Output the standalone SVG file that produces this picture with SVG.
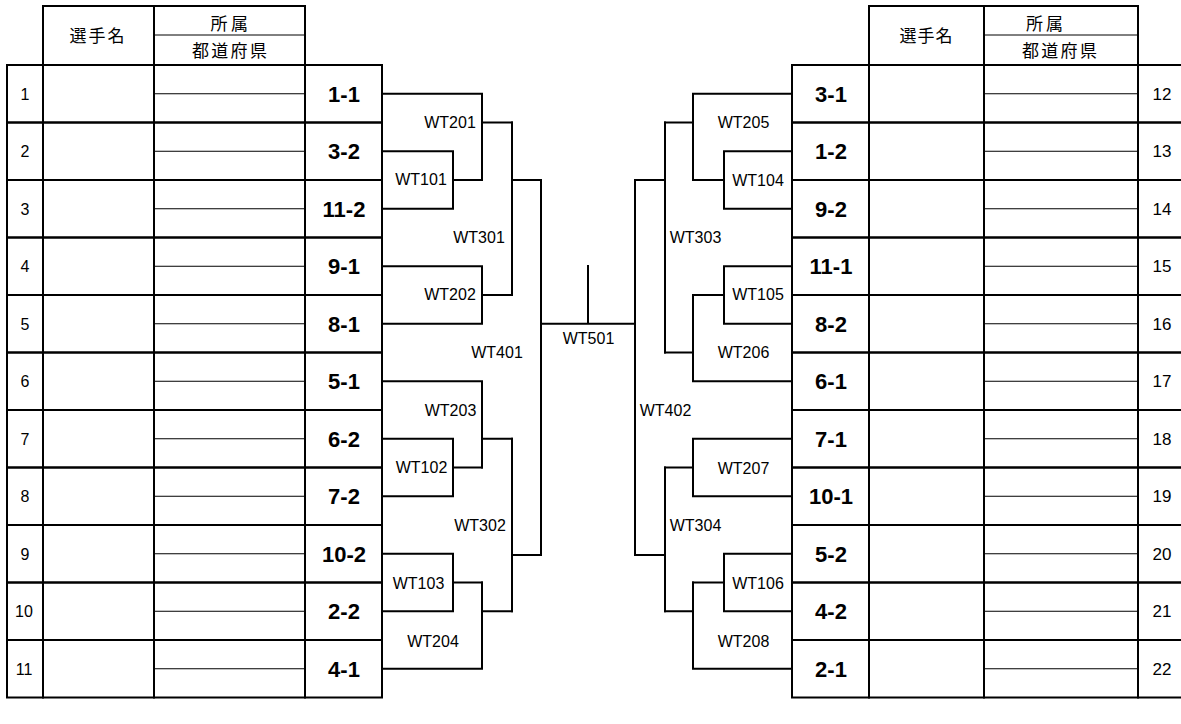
<svg xmlns="http://www.w3.org/2000/svg" width="1181" height="724" viewBox="0 0 1181 724">
<style>
.cell{fill:none;stroke:#000;stroke-width:2}
.thin{fill:none;stroke:#000;stroke-width:1}
.con{fill:none;stroke:#000;stroke-width:2;stroke-linecap:square}
.lbl{font-family:"Liberation Sans",Arial,sans-serif;font-size:16px;text-anchor:middle;fill:#000}
.num{font-family:"Liberation Sans",Arial,sans-serif;font-size:16px;text-anchor:middle;fill:#000}
.numr{font-family:"Liberation Sans",Arial,sans-serif;font-size:17px;text-anchor:middle;fill:#000}
.code{font-family:"Liberation Sans",Arial,sans-serif;font-size:22px;font-weight:bold;text-anchor:middle;fill:#000}
.hdr{font-family:"Noto Sans CJK JP","Noto Sans CJK SC",sans-serif;font-size:17px;fill:#000}
</style>
<rect x="0" y="0" width="1181" height="724" fill="#fff"/>

<g id="header-left">
<rect class="cell" x="43" y="6" width="111" height="59"/>
<rect class="cell" x="154" y="6" width="151" height="59"/>
<line class="thin" x1="154" y1="35" x2="305" y2="35"/>
<text class="hdr" x="69.5" y="41.8" letter-spacing="2">選手名</text>
<text class="hdr" x="210.5" y="29.5" letter-spacing="3.5">所属</text>
<text class="hdr" x="192" y="56.5" letter-spacing="2.3">都道府県</text>
</g>
<g id="header-right">
<rect class="cell" x="869" y="6" width="115" height="59"/>
<rect class="cell" x="984" y="6" width="154" height="59"/>
<line class="thin" x1="984" y1="35" x2="1138" y2="35"/>
<text class="hdr" x="899.5" y="41.8" letter-spacing="1">選手名</text>
<text class="hdr" x="1026" y="29.5" letter-spacing="3">所属</text>
<text class="hdr" x="1022" y="56.5" letter-spacing="2.3">都道府県</text>
</g>

<g id="entry-1"><rect class="cell" x="7" y="65" width="36" height="57.5"/><rect class="cell" x="43" y="65" width="111" height="57.5"/><rect class="cell" x="154" y="65" width="151" height="57.5"/><rect class="cell" x="305" y="65" width="77" height="57.5"/><line class="thin" x1="154" y1="93.75" x2="305" y2="93.75"/><text class="num" x="25" y="99.5">1</text><text class="code" x="344" y="101.5">1-1</text></g>
<g id="entry-2"><rect class="cell" x="7" y="122.5" width="36" height="57.5"/><rect class="cell" x="43" y="122.5" width="111" height="57.5"/><rect class="cell" x="154" y="122.5" width="151" height="57.5"/><rect class="cell" x="305" y="122.5" width="77" height="57.5"/><line class="thin" x1="154" y1="151.25" x2="305" y2="151.25"/><text class="num" x="25" y="157">2</text><text class="code" x="344" y="159">3-2</text></g>
<g id="entry-3"><rect class="cell" x="7" y="180" width="36" height="57.5"/><rect class="cell" x="43" y="180" width="111" height="57.5"/><rect class="cell" x="154" y="180" width="151" height="57.5"/><rect class="cell" x="305" y="180" width="77" height="57.5"/><line class="thin" x1="154" y1="208.75" x2="305" y2="208.75"/><text class="num" x="25" y="214.5">3</text><text class="code" x="344" y="216.5">11-2</text></g>
<g id="entry-4"><rect class="cell" x="7" y="237.5" width="36" height="57.5"/><rect class="cell" x="43" y="237.5" width="111" height="57.5"/><rect class="cell" x="154" y="237.5" width="151" height="57.5"/><rect class="cell" x="305" y="237.5" width="77" height="57.5"/><line class="thin" x1="154" y1="266.25" x2="305" y2="266.25"/><text class="num" x="25" y="272">4</text><text class="code" x="344" y="274">9-1</text></g>
<g id="entry-5"><rect class="cell" x="7" y="295" width="36" height="57.5"/><rect class="cell" x="43" y="295" width="111" height="57.5"/><rect class="cell" x="154" y="295" width="151" height="57.5"/><rect class="cell" x="305" y="295" width="77" height="57.5"/><line class="thin" x1="154" y1="323.75" x2="305" y2="323.75"/><text class="num" x="25" y="329.5">5</text><text class="code" x="344" y="331.5">8-1</text></g>
<g id="entry-6"><rect class="cell" x="7" y="352.5" width="36" height="57.5"/><rect class="cell" x="43" y="352.5" width="111" height="57.5"/><rect class="cell" x="154" y="352.5" width="151" height="57.5"/><rect class="cell" x="305" y="352.5" width="77" height="57.5"/><line class="thin" x1="154" y1="381.25" x2="305" y2="381.25"/><text class="num" x="25" y="387">6</text><text class="code" x="344" y="389">5-1</text></g>
<g id="entry-7"><rect class="cell" x="7" y="410" width="36" height="57.5"/><rect class="cell" x="43" y="410" width="111" height="57.5"/><rect class="cell" x="154" y="410" width="151" height="57.5"/><rect class="cell" x="305" y="410" width="77" height="57.5"/><line class="thin" x1="154" y1="438.75" x2="305" y2="438.75"/><text class="num" x="25" y="444.5">7</text><text class="code" x="344" y="446.5">6-2</text></g>
<g id="entry-8"><rect class="cell" x="7" y="467.5" width="36" height="57.5"/><rect class="cell" x="43" y="467.5" width="111" height="57.5"/><rect class="cell" x="154" y="467.5" width="151" height="57.5"/><rect class="cell" x="305" y="467.5" width="77" height="57.5"/><line class="thin" x1="154" y1="496.25" x2="305" y2="496.25"/><text class="num" x="25" y="502">8</text><text class="code" x="344" y="504">7-2</text></g>
<g id="entry-9"><rect class="cell" x="7" y="525" width="36" height="57.5"/><rect class="cell" x="43" y="525" width="111" height="57.5"/><rect class="cell" x="154" y="525" width="151" height="57.5"/><rect class="cell" x="305" y="525" width="77" height="57.5"/><line class="thin" x1="154" y1="553.75" x2="305" y2="553.75"/><text class="num" x="25" y="559.5">9</text><text class="code" x="344" y="561.5">10-2</text></g>
<g id="entry-10"><rect class="cell" x="7" y="582.5" width="36" height="57.5"/><rect class="cell" x="43" y="582.5" width="111" height="57.5"/><rect class="cell" x="154" y="582.5" width="151" height="57.5"/><rect class="cell" x="305" y="582.5" width="77" height="57.5"/><line class="thin" x1="154" y1="611.25" x2="305" y2="611.25"/><text class="num" x="24" y="617">10</text><text class="code" x="344" y="619">2-2</text></g>
<g id="entry-11"><rect class="cell" x="7" y="640" width="36" height="57.5"/><rect class="cell" x="43" y="640" width="111" height="57.5"/><rect class="cell" x="154" y="640" width="151" height="57.5"/><rect class="cell" x="305" y="640" width="77" height="57.5"/><line class="thin" x1="154" y1="668.75" x2="305" y2="668.75"/><text class="num" x="24" y="674.5">11</text><text class="code" x="344" y="676.5">4-1</text></g>

<g id="entry-12"><rect class="cell" x="792" y="65" width="77" height="57.5"/><rect class="cell" x="869" y="65" width="115" height="57.5"/><rect class="cell" x="984" y="65" width="154" height="57.5"/><rect class="cell" x="1138" y="65" width="60" height="57.5"/><line class="thin" x1="984" y1="93.75" x2="1138" y2="93.75"/><text class="numr" x="1162" y="99.8">12</text><text class="code" x="831" y="101.5">3-1</text></g>
<g id="entry-13"><rect class="cell" x="792" y="122.5" width="77" height="57.5"/><rect class="cell" x="869" y="122.5" width="115" height="57.5"/><rect class="cell" x="984" y="122.5" width="154" height="57.5"/><rect class="cell" x="1138" y="122.5" width="60" height="57.5"/><line class="thin" x1="984" y1="151.25" x2="1138" y2="151.25"/><text class="numr" x="1162" y="157.3">13</text><text class="code" x="831" y="159">1-2</text></g>
<g id="entry-14"><rect class="cell" x="792" y="180" width="77" height="57.5"/><rect class="cell" x="869" y="180" width="115" height="57.5"/><rect class="cell" x="984" y="180" width="154" height="57.5"/><rect class="cell" x="1138" y="180" width="60" height="57.5"/><line class="thin" x1="984" y1="208.75" x2="1138" y2="208.75"/><text class="numr" x="1162" y="214.8">14</text><text class="code" x="831" y="216.5">9-2</text></g>
<g id="entry-15"><rect class="cell" x="792" y="237.5" width="77" height="57.5"/><rect class="cell" x="869" y="237.5" width="115" height="57.5"/><rect class="cell" x="984" y="237.5" width="154" height="57.5"/><rect class="cell" x="1138" y="237.5" width="60" height="57.5"/><line class="thin" x1="984" y1="266.25" x2="1138" y2="266.25"/><text class="numr" x="1162" y="272.3">15</text><text class="code" x="831" y="274">11-1</text></g>
<g id="entry-16"><rect class="cell" x="792" y="295" width="77" height="57.5"/><rect class="cell" x="869" y="295" width="115" height="57.5"/><rect class="cell" x="984" y="295" width="154" height="57.5"/><rect class="cell" x="1138" y="295" width="60" height="57.5"/><line class="thin" x1="984" y1="323.75" x2="1138" y2="323.75"/><text class="numr" x="1162" y="329.8">16</text><text class="code" x="831" y="331.5">8-2</text></g>
<g id="entry-17"><rect class="cell" x="792" y="352.5" width="77" height="57.5"/><rect class="cell" x="869" y="352.5" width="115" height="57.5"/><rect class="cell" x="984" y="352.5" width="154" height="57.5"/><rect class="cell" x="1138" y="352.5" width="60" height="57.5"/><line class="thin" x1="984" y1="381.25" x2="1138" y2="381.25"/><text class="numr" x="1162" y="387.3">17</text><text class="code" x="831" y="389">6-1</text></g>
<g id="entry-18"><rect class="cell" x="792" y="410" width="77" height="57.5"/><rect class="cell" x="869" y="410" width="115" height="57.5"/><rect class="cell" x="984" y="410" width="154" height="57.5"/><rect class="cell" x="1138" y="410" width="60" height="57.5"/><line class="thin" x1="984" y1="438.75" x2="1138" y2="438.75"/><text class="numr" x="1162" y="444.8">18</text><text class="code" x="831" y="446.5">7-1</text></g>
<g id="entry-19"><rect class="cell" x="792" y="467.5" width="77" height="57.5"/><rect class="cell" x="869" y="467.5" width="115" height="57.5"/><rect class="cell" x="984" y="467.5" width="154" height="57.5"/><rect class="cell" x="1138" y="467.5" width="60" height="57.5"/><line class="thin" x1="984" y1="496.25" x2="1138" y2="496.25"/><text class="numr" x="1162" y="502.3">19</text><text class="code" x="831" y="504">10-1</text></g>
<g id="entry-20"><rect class="cell" x="792" y="525" width="77" height="57.5"/><rect class="cell" x="869" y="525" width="115" height="57.5"/><rect class="cell" x="984" y="525" width="154" height="57.5"/><rect class="cell" x="1138" y="525" width="60" height="57.5"/><line class="thin" x1="984" y1="553.75" x2="1138" y2="553.75"/><text class="numr" x="1162" y="559.8">20</text><text class="code" x="831" y="561.5">5-2</text></g>
<g id="entry-21"><rect class="cell" x="792" y="582.5" width="77" height="57.5"/><rect class="cell" x="869" y="582.5" width="115" height="57.5"/><rect class="cell" x="984" y="582.5" width="154" height="57.5"/><rect class="cell" x="1138" y="582.5" width="60" height="57.5"/><line class="thin" x1="984" y1="611.25" x2="1138" y2="611.25"/><text class="numr" x="1162" y="617.3">21</text><text class="code" x="831" y="619">4-2</text></g>
<g id="entry-22"><rect class="cell" x="792" y="640" width="77" height="57.5"/><rect class="cell" x="869" y="640" width="115" height="57.5"/><rect class="cell" x="984" y="640" width="154" height="57.5"/><rect class="cell" x="1138" y="640" width="60" height="57.5"/><line class="thin" x1="984" y1="668.75" x2="1138" y2="668.75"/><text class="numr" x="1162" y="674.8">22</text><text class="code" x="831" y="676.5">2-1</text></g>

<g id="connectors">
<path class="con" d="M382,151.25H453V208.75H382M453,180H482"/>
<path class="con" d="M382,93.75H482V180M482,122.5H512"/>
<path class="con" d="M382,266.25H482V323.75H382M482,295H512"/>
<path class="con" d="M512,122.5V295M512,180H541"/>
<path class="con" d="M382,438.75H453V496.25H382M453,467.5H482"/>
<path class="con" d="M382,381.25H482V467.5M482,438.75H512"/>
<path class="con" d="M382,553.75H453V611.25H382M453,582.5H482"/>
<path class="con" d="M382,668.75H482V582.5M482,611.25H512"/>
<path class="con" d="M512,438.75V611.25M512,555H541"/>
<path class="con" d="M541,180V555"/>
<path class="con" d="M541,323.75H635M588,266V323.75"/>
<path class="con" d="M792,151.25H724V208.75H792M724,180H693"/>
<path class="con" d="M792,93.75H693V180M693,122.5H665"/>
<path class="con" d="M792,266.25H724V323.75H792M724,295H693"/>
<path class="con" d="M792,381.25H693V295M693,352.5H665"/>
<path class="con" d="M665,122.5V352.5M665,180H635"/>
<path class="con" d="M792,438.75H693V496.25H792M693,467.5H665"/>
<path class="con" d="M792,553.75H724V611.25H792M724,582.5H693"/>
<path class="con" d="M792,668.75H693V582.5M693,611.25H665"/>
<path class="con" d="M665,467.5V611.25M665,555H635"/>
<path class="con" d="M635,180V555"/>
</g>

<g id="match-WT101"><text class="lbl" x="421" y="185.3">WT101</text></g>
<g id="match-WT102"><text class="lbl" x="421.5" y="473.3">WT102</text></g>
<g id="match-WT103"><text class="lbl" x="418.5" y="588.8">WT103</text></g>
<g id="match-WT201"><text class="lbl" x="450" y="127.8">WT201</text></g>
<g id="match-WT202"><text class="lbl" x="450" y="299.8">WT202</text></g>
<g id="match-WT203"><text class="lbl" x="450.5" y="415.8">WT203</text></g>
<g id="match-WT204"><text class="lbl" x="433" y="646.8">WT204</text></g>
<g id="match-WT301"><text class="lbl" x="479" y="242.8">WT301</text></g>
<g id="match-WT302"><text class="lbl" x="480" y="530.8">WT302</text></g>
<g id="match-WT401"><text class="lbl" x="497" y="357.8">WT401</text></g>
<g id="match-WT501"><text class="lbl" x="588.5" y="343.8">WT501</text></g>
<g id="match-WT104"><text class="lbl" x="758" y="185.5">WT104</text></g>
<g id="match-WT105"><text class="lbl" x="758" y="300.3">WT105</text></g>
<g id="match-WT106"><text class="lbl" x="758" y="588.8">WT106</text></g>
<g id="match-WT205"><text class="lbl" x="743.5" y="127.8">WT205</text></g>
<g id="match-WT206"><text class="lbl" x="743.5" y="357.8">WT206</text></g>
<g id="match-WT207"><text class="lbl" x="743.5" y="473.8">WT207</text></g>
<g id="match-WT208"><text class="lbl" x="743.5" y="646.8">WT208</text></g>
<g id="match-WT303"><text class="lbl" x="695.5" y="242.8">WT303</text></g>
<g id="match-WT304"><text class="lbl" x="695.5" y="531">WT304</text></g>
<g id="match-WT402"><text class="lbl" x="665.5" y="415.8">WT402</text></g>
</svg>
